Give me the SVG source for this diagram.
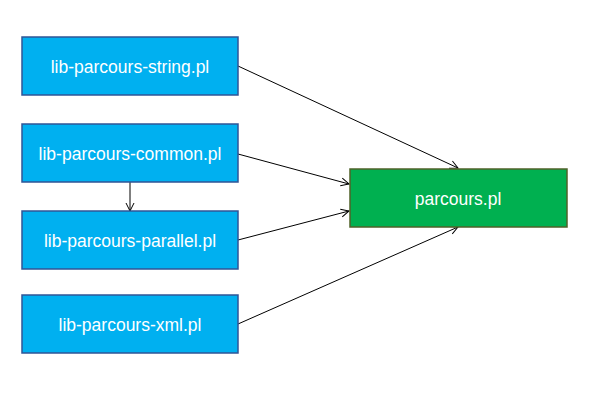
<svg xmlns="http://www.w3.org/2000/svg" width="603" height="401" viewBox="0 0 603 401">
<style>
.lib{fill:#00b0f0;stroke:#2f5597;stroke-width:1.5}
.main{fill:#00b050;stroke:#4f6228;stroke-width:1.5}
text{font-family:"Liberation Sans",Arial,sans-serif;font-size:17.5px;fill:#ffffff;text-anchor:middle;dominant-baseline:central}
.c line{stroke:#000;stroke-width:1;marker-end:url(#a)}
</style>
<defs>
<marker id="a" viewBox="0 0 10 10" refX="9" refY="5" markerWidth="10" markerHeight="10" markerUnits="userSpaceOnUse" orient="auto">
<path d="M1,1 L9,5 L1,9" fill="none" stroke="#000" stroke-width="1"/>
</marker>
</defs>
<rect width="603" height="401" fill="#fff"/>
<g class="c" id="connectors">
<line x1="238" y1="66" x2="458" y2="168"/>
<line x1="238" y1="154" x2="349" y2="184"/>
<line x1="238" y1="240" x2="349" y2="211"/>
<line x1="238" y1="324" x2="458" y2="227"/>
<line x1="130" y1="182" x2="130" y2="211"/>
</g>
<g id="n-string"><rect class="lib" x="22" y="37" width="216" height="58"/><text x="130" y="67">lib-parcours-string.pl</text></g>
<g id="n-common"><rect class="lib" x="22" y="124" width="216" height="58"/><text x="130" y="154">lib-parcours-common.pl</text></g>
<g id="n-parallel"><rect class="lib" x="22" y="211" width="216" height="58"/><text x="130" y="241">lib-parcours-parallel.pl</text></g>
<g id="n-xml"><rect class="lib" x="22" y="295" width="216" height="58"/><text x="130" y="325">lib-parcours-xml.pl</text></g>
<g id="n-main"><rect class="main" x="350" y="169" width="217" height="58"/><text x="458" y="199">parcours.pl</text></g>
</svg>
